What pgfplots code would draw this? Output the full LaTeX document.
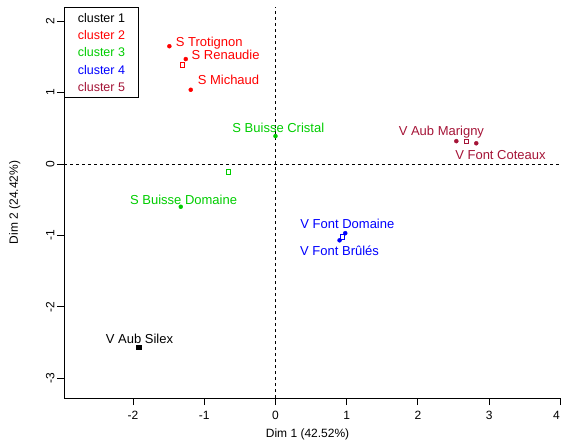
\documentclass[border=0pt]{standalone}
\usepackage{pgfplots}
\pgfplotsset{compat=1.18}
\usepackage{fontspec}
\setmainfont{Liberation Sans}
\definecolor{cA}{RGB}{0,0,0}
\definecolor{cB}{RGB}{255,0,0}
\definecolor{cC}{RGB}{0,205,0}
\definecolor{cD}{RGB}{0,0,255}
\definecolor{cE}{RGB}{165,20,55}
\tikzset{lab/.style={font=\fontsize{13}{15}\selectfont, inner sep=0pt}}
\begin{document}
\begin{tikzpicture}
\begin{axis}[
  scale only axis, width=497pt, height=391pt,
  xmin=-2.97, xmax=4.01, ymin=-3.28, ymax=2.20,
  axis x line*=bottom, axis y line*=left,
  axis line style={line width=0.8pt, -},
  xtick={-2,-1,0,1,2,3,4}, xticklabels={-2,-1,0,1,2,3,\makebox[0pt][r]{4\kern0.5pt}},
  ytick={-3,-2,-1,0,1,2}, yticklabels={-3,-2,-1,0,1,2},
  tick align=outside, major tick length=7pt,
  tick style={line width=0.8pt, black},
  ticklabel style={font=\fontsize{12}{14}\selectfont},
  xticklabel style={yshift=-3pt},
  yticklabel style={rotate=90, anchor=south, xshift=0pt, yshift=-1pt},
  xlabel={Dim 1 (42.52\%)}, ylabel={Dim 2 (24.42\%)},
  label style={font=\fontsize{12}{14}\selectfont},
  xlabel style={at={(axis description cs:0.49,0)}, anchor=north, yshift=-27pt},
  ylabel style={at={(axis description cs:0,0.5)}, anchor=south, yshift=40pt},
  clip=false,
]
% reference dashed lines
\addplot[dashed, line width=0.7pt, black] coordinates {(-2.97,0) (4.01,0)};
\addplot[dashed, line width=0.7pt, black] coordinates {(0,-3.28) (0,2.20)};
% individuals
\addplot[only marks, mark=*, mark size=2pt, cA] coordinates {(-1.92,-2.57)};
\addplot[only marks, mark=*, mark size=2pt, cB] coordinates {(-1.49,1.65) (-1.26,1.47) (-1.19,1.04)};
\addplot[only marks, mark=*, mark size=2pt, cC] coordinates {(0.00,0.39) (-1.33,-0.60)};
\addplot[only marks, mark=*, mark size=2pt, cD] coordinates {(0.98,-0.97) (0.90,-1.07)};
\addplot[only marks, mark=*, mark size=2pt, cE] coordinates {(2.54,0.32) (2.82,0.29)};
% cluster centres
\addplot[only marks, mark=square*, mark size=2.4pt, line width=0.8pt, cA] coordinates {(-1.92,-2.57)};
\addplot[only marks, mark=square, mark size=2.2pt, line width=0.8pt, cB] coordinates {(-1.31,1.39)};
\addplot[only marks, mark=square, mark size=2.2pt, line width=0.8pt, cC] coordinates {(-0.66,-0.11)};
\addplot[only marks, mark=square, mark size=2.2pt, line width=0.8pt, cD] coordinates {(0.94,-1.02)};
\addplot[only marks, mark=square, mark size=2.2pt, line width=0.8pt, cE] coordinates {(2.68,0.32)};
% labels
\node[lab, cB] at (axis cs:-0.93,1.70) {S Trotignon};
\node[lab, cB] at (axis cs:-0.70,1.53) {S Renaudie};
\node[lab, cB] at (axis cs:-0.66,1.18) {S Michaud};
\node[lab, cC] at (axis cs:0.04,0.50) {S Buisse Cristal};
\node[lab, cC] at (axis cs:-1.29,-0.50) {S Buisse Domaine};
\node[lab, cE] at (axis cs:2.33,0.45) {V Aub Marigny};
\node[lab, cE] at (axis cs:3.16,0.13) {V Font Coteaux};
\node[lab, cD] at (axis cs:1.01,-0.84) {V Font Domaine};
\node[lab, cD] at (axis cs:0.90,-1.22) {V Font Brûlés};
\node[lab, cA] at (axis cs:-1.91,-2.45) {V Aub Silex};
% legend
\node[draw, line width=0.8pt, fill=white, anchor=north west, align=left,
      inner xsep=8pt, inner ysep=4pt, minimum width=74pt, minimum height=90pt,
      font=\fontsize{12.5}{17.3}\selectfont]
  at (rel axis cs:0,1)
  {\textcolor{cA}{cluster 1}\\ \textcolor{cB}{cluster 2}\\ \textcolor{cC}{cluster 3}\\ \textcolor{cD}{cluster 4}\\ \textcolor{cE}{cluster 5}};
\end{axis}
\pgfresetboundingbox
\path (-64pt,-44pt) rectangle (498pt,398pt);
\end{tikzpicture}
\end{document}
